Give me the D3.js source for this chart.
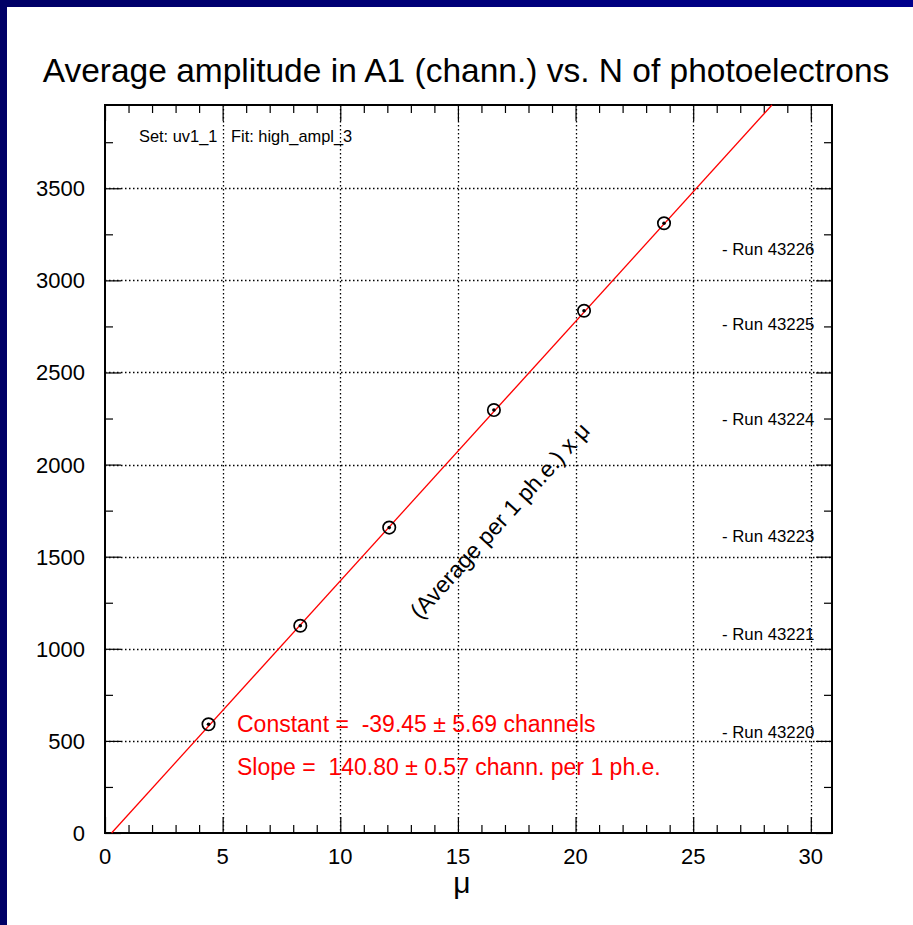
<!DOCTYPE html>
<html>
<head>
<meta charset="utf-8">
<script src="https://cdn.jsdelivr.net/npm/d3@7"></script>
<style>
  html, body { margin: 0; padding: 0; background: #fff; }
  svg { display: block; }
  text { font-family: "Liberation Sans", Arial, Helvetica, sans-serif; }
</style>
</head>
<body>
<svg id="chart" width="913" height="925"></svg>
<script>
// Measured points: mean number of photoelectrons (mu) and mean amplitude in A1
const runs = ["43220", "43221", "43223", "43224", "43225", "43226"];
const muValues = [4.40, 8.30, 12.08, 16.53, 20.36, 23.76];
const amplitudeValues = [590, 1125, 1658, 2296, 2835, 3310];
// Amplitude level at which each run label sits on the right side
const runLabelLevels = [545, 1075, 1608, 2245, 2760, 3165];

// Linear fit result
const fitConstant = -39.45;
const fitConstantErr = 5.69;
const fitSlope = 140.80;
const fitSlopeErr = 0.57;

const xTicks = [0, 5, 10, 15, 20, 25, 30];
const yTicks = [0, 500, 1000, 1500, 2000, 2500, 3000, 3500];
const xDomain = [0, 30.9];
const yDomain = [0, 3952];

const svg = d3.select("#chart");
const W = 913, H = 925;
const m = { left: 105, right: 832, top: 105, bottom: 833 };

// Window background: navy bar on top and left edges
const defs = svg.append("defs");
const grad = defs.append("linearGradient").attr("id", "navy").attr("x1", 0).attr("x2", 1).attr("y1", 0).attr("y2", 0);
grad.append("stop").attr("offset", "0%").attr("stop-color", "#000066");
grad.append("stop").attr("offset", "100%").attr("stop-color", "#00008c");
svg.append("rect").attr("x", 0).attr("y", 0).attr("width", W).attr("height", 7).attr("fill", "url(#navy)");
svg.append("rect").attr("x", 0).attr("y", 0).attr("width", 7).attr("height", H).attr("fill", "#000066");

const x = d3.scaleLinear().domain(xDomain).range([m.left, m.right]);
const y = d3.scaleLinear().domain(yDomain).range([m.bottom, m.top]);

// Title
svg.append("text").attr("x", 466).attr("y", 82).attr("text-anchor", "middle")
  .attr("font-size", 33.5).attr("fill", "#000")
  .text("Average amplitude in A1 (chann.) vs. N of photoelectrons");

// Dotted grid at major ticks
const grid = svg.append("g").attr("stroke", "#000").attr("stroke-width", 1.3).attr("stroke-dasharray", "1.5,2.5");
grid.selectAll("line.v").data(xTicks.filter(d => d > 0)).join("line")
  .attr("x1", d => Math.round(x(d)) + 0.5).attr("x2", d => Math.round(x(d)) + 0.5)
  .attr("y1", m.top).attr("y2", m.bottom);
grid.selectAll("line.h").data(yTicks.filter(d => d > 0)).join("line")
  .attr("x1", m.left).attr("x2", m.right)
  .attr("y1", d => Math.round(y(d)) + 0.5).attr("y2", d => Math.round(y(d)) + 0.5);

// Axes with inward ticks on all four sides
const xMinor = d3.range(0, 31, 1).filter(d => d % 5 !== 0);
const yMinor = d3.range(250, 3951, 500);

function tickAxis(axisFn, scale, values, size, transform) {
  const g = svg.append("g").attr("transform", transform)
    .call(axisFn(scale).tickValues(values).tickSize(size).tickFormat(""));
  g.select(".domain").remove();
  g.selectAll(".tick line").attr("stroke", "#000").attr("stroke-width", 1.2);
  return g;
}
tickAxis(d3.axisBottom, x, xTicks, -16, `translate(0,${m.bottom})`);
tickAxis(d3.axisBottom, x, xMinor, -8, `translate(0,${m.bottom})`);
tickAxis(d3.axisTop, x, xTicks, -16, `translate(0,${m.top})`);
tickAxis(d3.axisTop, x, xMinor, -8, `translate(0,${m.top})`);
tickAxis(d3.axisLeft, y, yTicks, -16, `translate(${m.left},0)`);
tickAxis(d3.axisLeft, y, yMinor, -8, `translate(${m.left},0)`);
tickAxis(d3.axisRight, y, yTicks, -16, `translate(${m.right},0)`);
tickAxis(d3.axisRight, y, yMinor, -8, `translate(${m.right},0)`);

// Tick labels
svg.append("g").selectAll("text").data(xTicks).join("text")
  .attr("x", d => x(d)).attr("y", 864).attr("text-anchor", "middle")
  .attr("font-size", 22).text(d => d);
svg.append("g").selectAll("text").data(yTicks).join("text")
  .attr("x", 85).attr("y", d => y(d) + 8).attr("text-anchor", "end")
  .attr("font-size", 22).text(d => d);

// Axis title
svg.append("text").attr("x", 462).attr("y", 893).attr("text-anchor", "middle")
  .attr("font-size", 30).text("\u03bc");

// Frame
svg.append("rect").attr("x", m.left).attr("y", m.top)
  .attr("width", m.right - m.left).attr("height", m.bottom - m.top)
  .attr("fill", "none").attr("stroke", "#000").attr("stroke-width", 2);

// Set / fit caption
svg.append("text").attr("x", 139).attr("y", 142).attr("font-size", 16.4)
  .attr("xml:space", "preserve")
  .text("Set: uv1_1   Fit: high_ampl_3");

// Fit line clipped to the frame
const fit = mu => fitConstant + fitSlope * mu;
const muAtZero = -fitConstant / fitSlope;
const muAtTop = (yDomain[1] - fitConstant) / fitSlope;
svg.append("line")
  .attr("x1", x(muAtZero)).attr("y1", y(0))
  .attr("x2", x(muAtTop)).attr("y2", y(fit(muAtTop)))
  .attr("stroke", "#ff0000").attr("stroke-width", 1.3);

// Data points: open circle with a dot
const pts = svg.append("g");
muValues.forEach((mu, i) => {
  pts.append("circle").attr("cx", x(mu)).attr("cy", y(amplitudeValues[i])).attr("r", 6.2)
    .attr("fill", "none").attr("stroke", "#000").attr("stroke-width", 1.7);
  pts.append("circle").attr("cx", x(mu)).attr("cy", y(amplitudeValues[i])).attr("r", 1.8)
    .attr("fill", "#000");
});

// Run labels
svg.append("g").selectAll("text").data(runs).join("text")
  .attr("x", 722).attr("y", (d, i) => y(runLabelLevels[i]) + 5.5)
  .attr("font-size", 16.8).text(d => "- Run " + d);

// Fit results
const fmt = v => d3.format(".2f")(v).replace("\u2212", "-");
svg.append("text").attr("x", 237).attr("y", 732).attr("fill", "#ff0000").attr("font-size", 23)
  .attr("xml:space", "preserve")
  .text(`Constant =  ${fmt(fitConstant)} \u00b1 ${fmt(fitConstantErr)} channels`);
svg.append("text").attr("x", 237).attr("y", 775).attr("fill", "#ff0000").attr("font-size", 23)
  .attr("xml:space", "preserve")
  .text(`Slope =  ${fmt(fitSlope)} \u00b1 ${fmt(fitSlopeErr)} chann. per 1 ph.e.`);

// Rotated model label along the fit line
const angle = -Math.atan(fitSlope * (y(0) - y(1)) / (x(1) - x(0))) * 180 / Math.PI;
svg.append("text")
  .attr("transform", `translate(${x(13.4)},${y(1155)}) rotate(${angle})`)
  .attr("font-size", 23)
  .text("(Average per 1 ph.e.) x \u03bc");
</script>
</body>
</html>
